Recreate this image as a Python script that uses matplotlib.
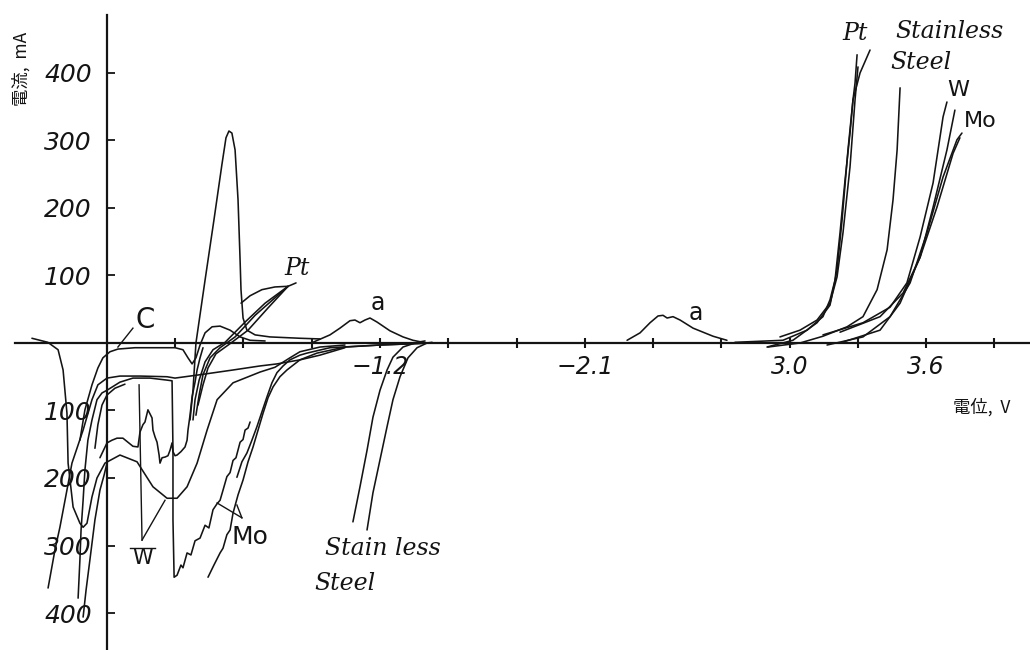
import numpy as np
import matplotlib.pyplot as plt

plt.rcParams['font.family'] = ['DejaVu Sans']

c_dip_x = [-0.33, -0.26, -0.215, -0.193, -0.176, -0.171, -0.149, -0.119, -0.105, -0.088, -0.066, -0.044, -0.009,
           0.057, 0.132, 0.202, 0.264, 0.308, 0.352, 0.396, 0.44, 0.484, 0.554, 0.673, 0.738, 0.804, 0.848, 0.936, 1.046]
c_dip_y = [7, 1, -10, -40, -104, -178, -243, -267, -273, -267, -228, -200, -178,
           -166, -176, -213, -230, -230, -213, -178, -129, -84, -59, -43, -36, -22, -13, -6, -3]

c_line_x = [-0.119, -0.097, -0.066, -0.040, -0.018, 0.013, 0.048, 0.123, 0.189, 0.299, 0.334, 0.356, 0.374,
            0.391, 0.409, 0.431, 0.462, 0.497, 0.541, 0.585, 0.629, 0.695]
c_line_y = [-144, -99, -62, -37, -22, -13, -9, -7, -7, -7, -10, -22, -31, -22, -3, 15, 24, 25, 19, 9, 4, 3]

w_long_x = [-0.259, -0.229, -0.207, -0.180, -0.154, -0.127, -0.105, -0.066, -0.040, 0, 0.057, 0.145, 0.264,
            0.299, 0.343, 0.409, 0.554, 0.673, 0.747, 0.848, 0.936, 1.046]
w_long_y = [-363, -307, -273, -225, -178, -151, -129, -84, -62, -52, -49, -49, -50, -52, -50, -47, -40, -34,
            -31, -25, -18, -7]

w_drop_x = [-0.127, -0.119, -0.114, -0.105, -0.097, -0.084, -0.066, -0.044, -0.022, 0, 0.057, 0.114, 0.189,
            0.264, 0.286, 0.290, 0.290, 0.295, 0.308, 0.325, 0.334, 0.352, 0.369, 0.387, 0.409, 0.431, 0.448,
            0.466, 0.484, 0.497, 0.510, 0.527, 0.541, 0.554, 0.567, 0.585, 0.598, 0.607, 0.620, 0.629]
w_drop_y = [-378, -321, -277, -233, -188, -144, -114, -84, -74, -70, -58, -52, -52, -55, -56, -159, -262, -347,
            -344, -329, -333, -311, -314, -293, -289, -270, -274, -247, -238, -233, -218, -198, -192, -174, -170,
            -147, -143, -129, -126, -117]

w_low_x = [-0.105, -0.092, -0.075, -0.053, -0.031, -0.013, 0]
w_low_y = [-406, -366, -321, -262, -218, -196, -178]

w_short_x = [-0.053, -0.040, -0.022, 0, 0.035, 0.079]
w_short_y = [-156, -121, -92, -77, -67, -61]

w_jag_x = [-0.031, 0, 0.022, 0.044, 0.070, 0.092, 0.114, 0.136, 0.145, 0.158, 0.167, 0.180, 0.189, 0.198,
           0.202, 0.211, 0.220, 0.229, 0.233, 0.242, 0.255, 0.268, 0.277, 0.286, 0.290, 0.299, 0.308, 0.325,
           0.343, 0.352, 0.356, 0.365, 0.374, 0.387, 0.396, 0.409, 0.422]
w_jag_y = [-170, -148, -144, -141, -141, -147, -153, -154, -132, -121, -117, -99, -105, -111, -129, -139, -147,
           -166, -178, -170, -169, -167, -159, -148, -161, -167, -166, -161, -154, -144, -129, -107, -80, -58,
           -40, -22, -7]

pt_peak_x = [0.365, 0.378, 0.391, 0.431, 0.470, 0.505, 0.523, 0.536, 0.549, 0.563, 0.576, 0.585, 0.589, 0.598,
             0.615, 0.651, 0.716, 0.848, 0.936]
pt_peak_y = [-114, -70, 0, 93, 182, 264, 304, 314, 311, 286, 212, 123, 79, 37, 19, 12, 9, 7, 6]

pt1_x = [0.378, 0.387, 0.405, 0.431, 0.466, 0.519, 0.607, 0.695, 0.796]
pt1_y = [-114, -84, -55, -28, -10, 1, 31, 59, 84]
pt2_x = [0.391, 0.405, 0.422, 0.453, 0.497, 0.563, 0.651, 0.796]
pt2_y = [-107, -77, -47, -22, -7, 9, 41, 84]
pt3_x = [0.400, 0.422, 0.444, 0.479, 0.541, 0.620, 0.708, 0.796]
pt3_y = [-92, -62, -37, -16, -1, 19, 52, 84]
pt4_x = [0.589, 0.629, 0.681, 0.738, 0.796, 0.831]
pt4_y = [59, 70, 79, 83, 84, 89]

mo1_x = [0.444, 0.470, 0.497, 0.510, 0.527, 0.541, 0.554, 0.576, 0.598, 0.620, 0.642, 0.664, 0.686, 0.708,
         0.730, 0.760, 0.791, 0.848, 0.923, 1.046, 1.200, 1.420]
mo1_y = [-347, -329, -311, -304, -284, -277, -252, -225, -203, -176, -154, -129, -104, -81, -65, -50, -40, -25,
         -15, -6, -3, 0]
mo2_x = [0.571, 0.593, 0.615, 0.637, 0.659, 0.681, 0.703, 0.725, 0.747, 0.774, 0.804, 0.848, 0.879, 0.980,
         1.200, 1.429]
mo2_y = [-199, -176, -163, -144, -124, -102, -80, -59, -44, -34, -25, -18, -15, -7, -3, 0]

ss1_x = [1.081, 1.112, 1.143, 1.169, 1.200, 1.231, 1.257, 1.301, 1.363, 1.398]
ss1_y = [-265, -213, -159, -110, -70, -40, -21, -6, 1, 3]
ss2_x = [1.143, 1.169, 1.200, 1.231, 1.257, 1.288, 1.323, 1.363, 1.407, 1.429]
ss2_y = [-277, -222, -173, -124, -84, -50, -22, -7, 0, 1]

a1_x = [0.905, 0.980, 1.024, 1.068, 1.090, 1.112, 1.134, 1.156, 1.187, 1.244, 1.301, 1.345, 1.389]
a1_y = [1, 12, 22, 33, 34, 30, 34, 37, 31, 18, 9, 4, 1]
a2_x = [2.286, 2.343, 2.387, 2.422, 2.444, 2.462, 2.488, 2.519, 2.576, 2.664, 2.725]
a2_y = [4, 15, 30, 40, 41, 37, 39, 34, 22, 10, 4]

# anodic side
pta_x = [2.760, 2.971, 3.077, 3.147, 3.178, 3.200, 3.222, 3.244, 3.266, 3.279, 3.288, 3.297]
pta_y = [1, 4, 19, 39, 64, 93, 163, 241, 311, 360, 385, 427]
ptb_x = [2.901, 3.015, 3.121, 3.178, 3.209, 3.231, 3.257, 3.279, 3.310, 3.354]
ptb_y = [-6, 4, 30, 56, 108, 182, 286, 360, 400, 434]
ptc_x = [2.958, 3.046, 3.121, 3.178, 3.209, 3.235, 3.266, 3.288, 3.301]
ptc_y = [9, 19, 34, 59, 98, 163, 261, 360, 409]
ssr_x = [2.905, 3.046, 3.147, 3.253, 3.323, 3.385, 3.429, 3.455, 3.473, 3.486]
ssr_y = [-6, 0, 10, 24, 39, 79, 138, 212, 286, 378]
wr1_x = [3.147, 3.323, 3.442, 3.516, 3.574, 3.631, 3.675, 3.692]
wr1_y = [12, 30, 53, 89, 157, 237, 335, 357]
wr2_x = [3.222, 3.398, 3.499, 3.574, 3.631, 3.692, 3.727]
wr2_y = [16, 39, 74, 127, 201, 286, 345]
mor1_x = [3.165, 3.323, 3.442, 3.530, 3.604, 3.675, 3.736, 3.758]
mor1_y = [-3, 9, 39, 89, 163, 246, 301, 311]
mor2_x = [3.222, 3.398, 3.486, 3.574, 3.648, 3.719, 3.749]
mor2_y = [0, 19, 59, 127, 201, 281, 304]

curves = [
    (c_dip_x, c_dip_y), (c_line_x, c_line_y), (w_long_x, w_long_y), (w_drop_x, w_drop_y),
    (w_low_x, w_low_y), (w_short_x, w_short_y), (w_jag_x, w_jag_y), (pt_peak_x, pt_peak_y),
    (pt1_x, pt1_y), (pt2_x, pt2_y), (pt3_x, pt3_y), (pt4_x, pt4_y), (mo1_x, mo1_y), (mo2_x, mo2_y),
    (ss1_x, ss1_y), (ss2_x, ss2_y), (a1_x, a1_y), (a2_x, a2_y),
    (pta_x, pta_y), (ptb_x, ptb_y), (ptc_x, ptc_y), (ssr_x, ssr_y),
    (wr1_x, wr1_y), (wr2_x, wr2_y), (mor1_x, mor1_y), (mor2_x, mor2_y),
]

# leader lines from the hand-written labels
leaders = [
    ([0.114, 0.048], [22, -6]),             # C
    ([0.154, 0.141], [-292, -62]),          # W
    ([0.154, 0.255], [-292, -233]),
    ([0.101, 0.211], [-304, -304]),
    ([0.484, 0.593], [-237, -259]),         # Mo
    ([0.571, 0.593], [-240, -259]),
]

xticks = [0.3, 0.6, 0.9, 1.2, 1.5, 1.8, 2.1, 2.4, 2.7, 3.0, 3.3, 3.6, 3.9]
xlabels = ['', '', '', '\u22121.2', '', '', '\u22122.1', '', '', '3.0', '', '3.6', '']
yticks = [-400, -300, -200, -100, 100, 200, 300, 400]
ylabels = ['400', '300', '200', '100', '100', '200', '300', '400']

ink = '#141414'

fig = plt.figure(figsize=(10.3, 6.5), dpi=100)
ax = fig.add_axes([0, 0, 1, 1])
ax.set_xlim(-0.4703, 4.0571)
ax.set_ylim(-454.8, 508.1)

for x, y in curves:
    ax.plot(x, y, color=ink, lw=1.15, solid_joinstyle='round', solid_capstyle='round')
for x, y in leaders:
    ax.plot(x, y, color=ink, lw=1.0)

# axes drawn through the origin
for s in ['top', 'right']:
    ax.spines[s].set_visible(False)
ax.spines['left'].set_position(('data', 0))
ax.spines['bottom'].set_position(('data', 0))
ax.spines['left'].set_bounds(-454.8, 486)
ax.spines['bottom'].set_bounds(-0.404, 4.0571)
ax.spines['left'].set_linewidth(1.6)
ax.spines['bottom'].set_linewidth(1.6)
ax.spines['left'].set_color(ink)
ax.spines['bottom'].set_color(ink)

ax.set_yticks(yticks)
ax.set_yticklabels(ylabels, fontstyle='italic', fontsize=18, color='#2a2a2a')
ax.tick_params(axis='y', direction='in', length=6, width=1.3, pad=11, colors=ink)
ax.set_xticks(xticks)
ax.set_xticklabels(xlabels, fontstyle='italic', fontsize=17, color='#2a2a2a')
ax.tick_params(axis='x', direction='inout', length=7, width=1.5, pad=5, colors=ink)

hand = dict(color=ink, ha='center', va='center')
ax.text(0.167, 34, 'C', fontsize=20, **hand)
ax.text(0.835, 111, 'Pt', fontsize=17, fontstyle='italic', family='DejaVu Serif', **hand)
ax.text(1.191, 59, 'a', fontsize=17, **hand)
ax.text(2.589, 44, 'a', fontsize=17, **hand)
ax.text(0.158, -319, 'W', fontsize=15, **hand)
ax.text(0.629, -287, 'Mo', fontsize=18, **hand)
ax.text(1.213, -304, 'Stain less', fontsize=17, fontstyle='italic', family='DejaVu Serif', **hand)
ax.text(1.046, -356, 'Steel', fontsize=17, fontstyle='italic', family='DejaVu Serif', **hand)
ax.text(3.288, 459, 'Pt', fontsize=17, fontstyle='italic', family='DejaVu Serif', **hand)
ax.text(3.701, 461, 'Stainless', fontsize=17, fontstyle='italic', family='DejaVu Serif', **hand)
ax.text(3.578, 416, 'Steel', fontsize=17, fontstyle='italic', family='DejaVu Serif', **hand)
ax.text(3.741, 375, 'W', fontsize=16, **hand)
ax.text(3.837, 329, 'Mo', fontsize=16, **hand)

cjk = ['Noto Sans CJK JP', 'DejaVu Sans']
ax.text(-0.374, 406, '電流,  mA', fontsize=12.5, rotation=90, family=cjk, **hand)
ax.text(3.846, -96, '電位,  V', fontsize=12.5, family=cjk, **hand)

fig.savefig('out.png', dpi=100, facecolor='white')
